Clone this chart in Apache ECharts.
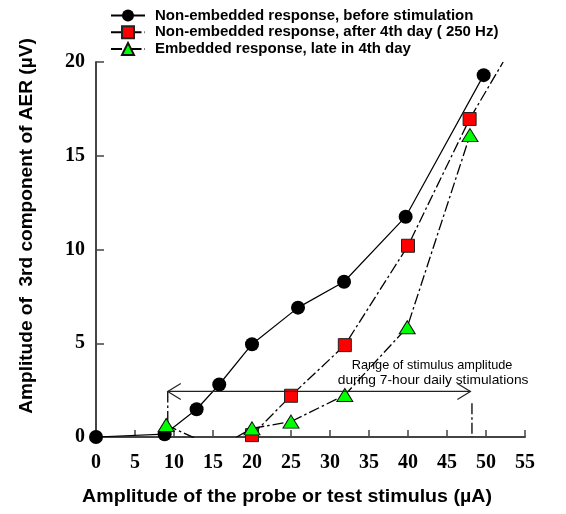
<!DOCTYPE html>
<html>
<head>
<meta charset="utf-8">
<script src="https://cdn.jsdelivr.net/npm/echarts@6/dist/echarts.min.js"></script>
<style>
html,body{margin:0;padding:0;background:#fff;}
#chart{width:566px;height:514px;}
</style>
</head>
<body>
<div id="chart"></div>
<script>
// ---- data ----
const seriesNames = [
  'Non-embedded response, before stimulation',
  'Non-embedded response, after 4th day ( 250 Hz)',
  'Embedded response, late in 4th day'
];
const xBefore = [0, 8.8, 12.9, 15.8, 20, 25.9, 31.8, 39.7, 49.7];
const yBefore = [0, 0.15, 1.48, 2.8, 4.95, 6.9, 8.28, 11.75, 19.3];
const xAfter = [20, 25, 31.9, 40, 47.9, 52.2];
const yAfter = [0.1, 2.2, 4.9, 10.2, 16.96, 20.0];
const afterHidden = [false, false, false, false, false, true];   // line extension without marker
const xEmbedded = [9.0, 15.5, 20, 25, 31.9, 39.9, 47.95];
const yEmbedded = [0.64, -0.6, 0.46, 0.82, 2.24, 5.85, 16.1];
const embeddedHidden = [false, true, false, false, false, false, false];
const xTicks = [0, 5, 10, 15, 20, 25, 30, 35, 40, 45, 50, 55];
const yTicks = [0, 5, 10, 15, 20];
const rangeArrowX = [9.2, 48.0];
const rangeArrowY = 2.43;
const leftDropY = [2.43, 0];
const rightDropX = 48.2;
const rightDropY = [1.8, 0];
const annotationLines = ['Range of stimulus amplitude', 'during 7-hour daily stimulations'];
const xAxisTitle = 'Amplitude of the probe or test stimulus (\u00b5A)';
const yAxisTitle = 'Amplitude of  3rd component of AER (\u00b5V)';

function pairs(xs, ys, hidden) {
  return xs.map((x, i) => {
    const d = { value: [x, ys[i]] };
    if (hidden && hidden[i]) d.symbol = 'none';
    return d;
  });
}

const dashDot = [11, 3, 2.5, 3];
const chart = echarts.init(document.getElementById('chart'), null, { renderer: 'canvas' });
const axisColor = '#444';

const option = {
  animation: false,
  backgroundColor: '#fff',
  grid: { left: 96, right: 41, top: 62, bottom: 77, containLabel: false },
  legend: {
    orient: 'vertical',
    left: 110,
    top: 8,
    padding: 0,
    itemWidth: 34,
    itemHeight: 15,
    itemGap: 1.7,
    data: seriesNames,
    textStyle: { fontFamily: 'Liberation Sans, Arial', fontWeight: 'bold', fontSize: 15, color: '#000', padding: [0, 0, 0, 5] }
  },
  xAxis: {
    type: 'value', min: 0, max: 55, interval: 5,
    axisLine: { show: true, onZero: false, lineStyle: { color: axisColor, width: 2 } },
    axisTick: { show: true, inside: true, length: 7, lineStyle: { color: axisColor, width: 1.5 } },
    axisLabel: { margin: 16, fontFamily: 'Liberation Serif, Times New Roman', fontWeight: 'bold', fontSize: 20, color: '#000',
      formatter: v => (xTicks.indexOf(v) >= 0 ? String(v) : '') },
    splitLine: { show: false }
  },
  yAxis: {
    type: 'value', min: 0, max: 20, interval: 5,
    axisLine: { show: true, onZero: false, lineStyle: { color: axisColor, width: 2 } },
    axisTick: { show: true, inside: true, length: 8, lineStyle: { color: axisColor, width: 1.5 } },
    axisLabel: { margin: 11, fontFamily: 'Liberation Serif, Times New Roman', fontWeight: 'bold', fontSize: 20, color: '#000',
      formatter: v => (yTicks.indexOf(v) >= 0 ? String(v) : '') },
    splitLine: { show: false }
  },
  series: [
    {
      name: seriesNames[0], type: 'line',
      data: pairs(xBefore, yBefore),
      symbol: 'circle', symbolSize: 14,
      itemStyle: { color: '#000' },
      lineStyle: { color: '#000', width: 1.2, type: 'solid' },
      z: 3
    },
    {
      name: seriesNames[1], type: 'line',
      data: pairs(xAfter, yAfter, afterHidden),
      symbol: 'rect', symbolSize: 13,
      itemStyle: { color: '#ff0000', borderColor: '#222', borderWidth: 1 },
      lineStyle: { color: '#000', width: 1.3, type: dashDot },
      z: 4
    },
    {
      name: seriesNames[2], type: 'line',
      data: pairs(xEmbedded, yEmbedded, embeddedHidden),
      symbol: 'triangle', symbolSize: [16, 13],
      itemStyle: { color: '#00ff00', borderColor: '#111', borderWidth: 1 },
      lineStyle: { color: '#000', width: 1.3, type: dashDot },
      z: 5
    }
  ],
  graphic: []
};
chart.setOption(option);

// annotation drawn through the chart's own coordinate conversion
const P = (x, y) => chart.convertToPixel({ gridIndex: 0 }, [x, y]);
const aL = P(rangeArrowX[0], rangeArrowY), aR = P(rangeArrowX[1], rangeArrowY);
const ld0 = P(rangeArrowX[0], leftDropY[0]), ld1 = P(rangeArrowX[0], leftDropY[1]);
const rd0 = P(rightDropX, rightDropY[0]), rd1 = P(rightDropX, rightDropY[1]);
const mid = (aL[0] + aR[0]) / 2;
const stroke = { stroke: '#222', lineWidth: 1.2, fill: null };
const gfx = [
  { type: 'line', shape: { x1: aL[0], y1: aL[1], x2: aR[0], y2: aR[1] }, style: stroke, z: 10 },
  { type: 'polyline', shape: { points: [[aL[0] + 13, aL[1] - 8], aL, [aL[0] + 13, aL[1] + 8]] }, style: stroke, z: 10 },
  { type: 'polyline', shape: { points: [[aR[0] - 13, aR[1] - 8], aR, [aR[0] - 13, aR[1] + 8]] }, style: stroke, z: 10 },
  { type: 'line', shape: { x1: ld0[0], y1: ld0[1], x2: ld1[0], y2: ld1[1] }, style: { stroke: '#000', lineWidth: 1.3, lineDash: dashDot }, z: 2 },
  { type: 'line', shape: { x1: rd0[0], y1: rd0[1], x2: rd1[0], y2: rd1[1] }, style: { stroke: '#000', lineWidth: 1.3, lineDash: dashDot }, z: 2 },
  { type: 'text', x: mid + 113, y: aL[1] - 26, scaleX: 0.98, style: { text: annotationLines[0], textAlign: 'center', textVerticalAlign: 'middle', font: '13px "Liberation Sans", Arial', fill: '#000' }, z: 10 },
  { type: 'text', x: mid + 114, y: aL[1] - 11, scaleX: 1.06, style: { text: annotationLines[1], textAlign: 'center', textVerticalAlign: 'middle', font: '13px "Liberation Sans", Arial', fill: '#000' }, z: 10 },
  { type: 'text', x: 287, y: 497, scaleX: 1.12, style: { text: xAxisTitle, textAlign: 'center', textVerticalAlign: 'middle', font: 'bold 17.5px "Liberation Sans", Arial', fill: '#000' } },
  { type: 'text', x: 27, y: 226, rotation: Math.PI / 2, scaleX: 1.09, style: { text: yAxisTitle, textAlign: 'center', textVerticalAlign: 'middle', font: 'bold 17.5px "Liberation Sans", Arial', fill: '#000' } }
];
chart.setOption({ graphic: gfx });
</script>
</body>
</html>
